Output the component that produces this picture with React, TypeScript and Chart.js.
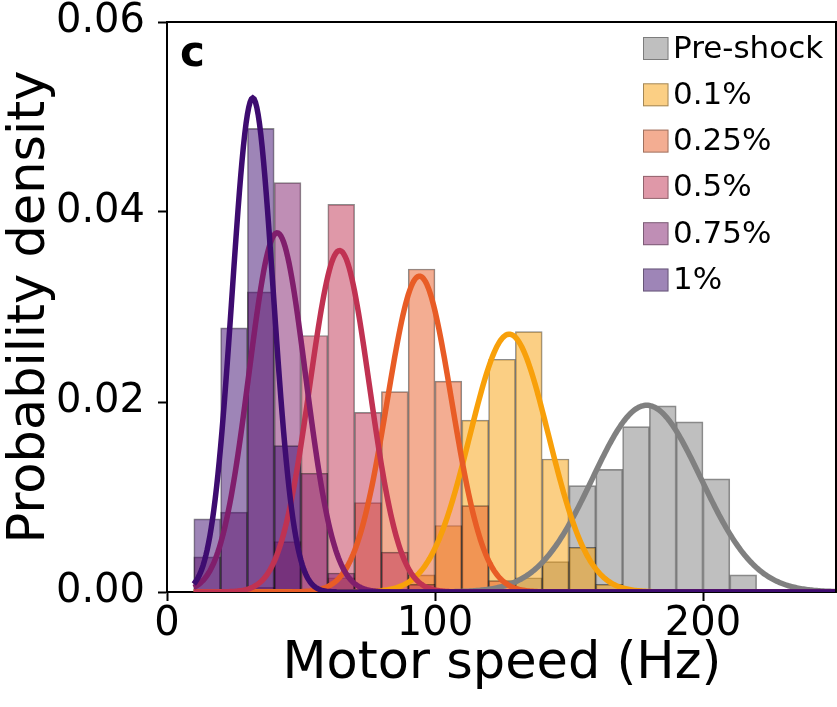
import React, { useEffect, useRef } from 'react';
import { Chart, registerables } from 'chart.js';

Chart.register(...registerables);

const FONT = "'DejaVu Sans', 'Noto Sans', sans-serif";

// Histogram bins (10 Hz wide), centres in Hz
const binCenters = [15, 25, 35, 45, 55, 65, 75, 85, 95, 105, 115, 125, 135, 145, 155, 165, 175, 185, 195, 205, 215];
const seriesLabels = ['Pre-shock', '0.1%', '0.25%', '0.5%', '0.75%', '1%'];

const preShockDensity = [0, 0, 0, 0, 0, 0, 0, 0, 0, 0, 0, 0, 0.0015, 0.0032, 0.0112, 0.0129, 0.0174, 0.0196, 0.0179, 0.0119, 0.0018];
const shock01Density = [0, 0, 0, 0, 0, 0, 0, 0, 0.0018, 0.007, 0.0181, 0.0245, 0.0274, 0.014, 0.0047, 0.0008, 0, 0, 0, 0, 0];
const shock025Density = [0, 0, 0, 0, 0, 0.0015, 0.0094, 0.0211, 0.034, 0.0222, 0.0091, 0.0012, 0, 0, 0, 0, 0, 0, 0, 0, 0];
const shock05Density = [0, 0, 0.0005, 0.0053, 0.027, 0.0408, 0.0189, 0.0042, 0.0008, 0, 0, 0, 0, 0, 0, 0, 0, 0, 0, 0, 0];
const shock075Density = [0.0037, 0.0084, 0.0316, 0.0431, 0.0125, 0.002, 0, 0, 0, 0, 0, 0, 0, 0, 0, 0, 0, 0, 0, 0, 0];
const shock1Density = [0.0077, 0.0278, 0.0488, 0.0154, 0.0003, 0, 0, 0, 0, 0, 0, 0, 0, 0, 0, 0, 0, 0, 0, 0, 0];

// Normal fits (mean, sd in Hz)
const fitMeans = [179, 127.7, 94.2, 64.4, 41.1, 32];
const fitSigmas = [20.3, 14.7, 12.0, 11.1, 10.55, 7.67];
const curveStart = 10;
const curveEnd = 250;

const xTicks = [0, 100, 200];
const yTicks = [0, 0.02, 0.04, 0.06];

const baseColors = [
  [128, 128, 128],
  [248, 160, 10],
  [232, 92, 38],
  [192, 50, 82],
  [128, 30, 108],
  [62, 12, 112],
];

const densities = [preShockDensity, shock01Density, shock025Density, shock05Density, shock075Density, shock1Density];

const rgba = (c: number[], a: number) => `rgba(${c[0]},${c[1]},${c[2]},${a})`;

function normalCurve(mu: number, sd: number) {
  const pts: { x: number; y: number }[] = [];
  for (let x = curveStart; x <= curveEnd; x += 0.5) {
    const z = (x - mu) / sd;
    pts.push({ x, y: Math.exp(-0.5 * z * z) / (sd * Math.sqrt(2 * Math.PI)) });
  }
  return pts;
}

const decorPlugin = {
  id: 'decor',
  afterDatasetsDraw(chart: any) {
    const { ctx, chartArea: ca } = chart;
    ctx.save();
    ctx.strokeStyle = '#000';
    ctx.lineWidth = 2;
    ctx.beginPath();
    ctx.moveTo(ca.left, ca.top);
    ctx.lineTo(ca.right - 1, ca.top);
    ctx.lineTo(ca.right - 1, ca.bottom);
    ctx.stroke();

    ctx.fillStyle = '#000';
    ctx.font = `bold 42px ${FONT}`;
    ctx.textAlign = 'left';
    ctx.textBaseline = 'alphabetic';
    ctx.fillText('c', ca.left + 13, ca.top + 44);

    // legend
    ctx.font = `31px ${FONT}`;
    ctx.textBaseline = 'middle';
    for (let i = 0; i < seriesLabels.length; i++) {
      const cy = 48.5 + i * 46.3;
      ctx.fillStyle = rgba(baseColors[i], 0.5);
      ctx.fillRect(643, cy - 11.5, 25.5, 23);
      ctx.strokeStyle = 'rgba(0,0,0,0.35)';
      ctx.lineWidth = 1;
      ctx.strokeRect(643.5, cy - 11, 24.5, 22);
      ctx.fillStyle = '#000';
      ctx.fillText(seriesLabels[i], 673, cy + 1);
    }
    ctx.restore();
  },
};

export default function App() {
  const ref = useRef<HTMLCanvasElement>(null);
  useEffect(() => {
    const barSets = densities.map((vals, i) => ({
      type: 'bar' as const,
      label: seriesLabels[i],
      data: binCenters.map((x, j) => ({ x, y: vals[j] })).filter((p) => p.y > 0),
      backgroundColor: rgba(baseColors[i], 0.5),
      borderColor: 'rgba(0,0,0,0.45)',
      borderWidth: 1,
      borderSkipped: 'start',
      grouped: false,
      barPercentage: 1,
      categoryPercentage: 1,
      order: 20 - i,
    }));
    const lineSets = fitMeans.map((mu, i) => ({
      type: 'line' as const,
      label: seriesLabels[i] + ' fit',
      data: normalCurve(mu, fitSigmas[i]),
      borderColor: rgba(baseColors[i], 1),
      borderWidth: 5.5,
      pointRadius: 0,
      tension: 0,
      fill: false,
      order: 10 - i,
    }));
    const chart = new Chart(ref.current as HTMLCanvasElement, {
      type: 'bar',
      data: { datasets: [...barSets, ...lineSets] as any },
      options: {
        responsive: false,
        animation: false,
        layout: { padding: { left: 0, right: 0, top: 22, bottom: 0 } },
        plugins: { legend: { display: false }, tooltip: { enabled: false } },
        scales: {
          x: {
            type: 'linear',
            min: 0,
            max: 250,
            offset: false,
            afterBuildTicks: (s: any) => {
              s.ticks = xTicks.map((v) => ({ value: v }));
            },
            afterFit: (s: any) => {
              s.height = 115;
              s.paddingLeft = 0;
              s.paddingRight = 0;
            },
            ticks: {
              font: { family: FONT, size: 40 },
              color: '#000',
              padding: 0,
              maxRotation: 0,
              autoSkip: false,
              callback: (v: any) => String(v),
            },
            grid: {
              display: true,
              drawOnChartArea: false,
              drawTicks: true,
              tickLength: 9,
              tickWidth: 2,
              tickColor: '#000',
              offset: false,
            },
            border: { display: true, color: '#000', width: 2 },
            title: {
              display: true,
              text: 'Motor speed (Hz)',
              font: { family: FONT, size: 51, lineHeight: 1.1 },
              color: '#000',
              padding: { top: 0, bottom: 14 },
            },
          },
          y: {
            type: 'linear',
            min: 0,
            max: 0.06,
            afterBuildTicks: (s: any) => {
              s.ticks = yTicks.map((v) => ({ value: v }));
            },
            afterFit: (s: any) => {
              s.width = 167;
              s.paddingTop = 0;
              s.paddingBottom = 0;
            },
            ticks: {
              font: { family: FONT, size: 40 },
              color: '#000',
              padding: 13,
              callback: (v: any) => Number(v).toFixed(2),
            },
            grid: {
              display: true,
              drawOnChartArea: false,
              drawTicks: true,
              tickLength: 9,
              tickWidth: 2,
              tickColor: '#000',
            },
            border: { display: true, color: '#000', width: 2 },
            title: {
              display: true,
              text: 'Probability density',
              font: { family: FONT, size: 51, lineHeight: 1.2 },
              color: '#000',
              padding: { top: 0, bottom: 0 },
            },
          },
        },
      },
      plugins: [decorPlugin],
    } as any);
    return () => chart.destroy();
  }, []);
  return (
    <div style={{ position: 'absolute', left: 0, top: 0, width: 837, height: 707, background: '#fff' }}>
      <canvas ref={ref} width={837} height={707} style={{ display: 'block', width: 837, height: 707 }} />
    </div>
  );
}
